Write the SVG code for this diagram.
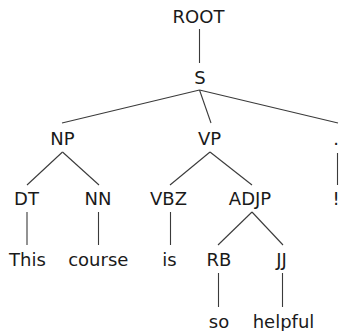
<svg xmlns="http://www.w3.org/2000/svg" width="339" height="331" viewBox="0 0 339 331">
<style>
.n text{font-family:"DejaVu Sans",sans-serif;font-size:18px;fill:#1a1a1a;text-anchor:middle}
#edges line{stroke:#3a3a3a;stroke-width:1.1}
</style>
<rect width="339" height="331" fill="#fff"/>
<g id="edges">
<line x1="199.5" y1="29" x2="199.5" y2="63"/>
<line x1="199.5" y1="90" x2="62" y2="123"/>
<line x1="199.5" y1="90" x2="211" y2="123"/>
<line x1="199.5" y1="90" x2="338" y2="123"/>
<line x1="62.5" y1="152" x2="27" y2="185"/>
<line x1="62.5" y1="152" x2="99" y2="185"/>
<line x1="210" y1="152" x2="170" y2="185"/>
<line x1="210" y1="152" x2="252" y2="185"/>
<line x1="337.5" y1="153" x2="337.5" y2="185"/>
<line x1="27" y1="212" x2="27" y2="245"/>
<line x1="98.5" y1="212" x2="98.5" y2="245"/>
<line x1="170.5" y1="212" x2="170.5" y2="245"/>
<line x1="252" y1="212" x2="218" y2="245"/>
<line x1="252" y1="212" x2="283" y2="245"/>
<line x1="218.5" y1="273" x2="218.5" y2="307"/>
<line x1="282.5" y1="273" x2="282.5" y2="307"/>
</g>
<g id="n-root" class="n"><text x="198.5" y="23">ROOT</text></g>
<g id="n-s" class="n"><text x="200" y="84">S</text></g>
<g id="n-np" class="n"><text x="62.5" y="145">NP</text></g>
<g id="n-vp" class="n"><text x="209.5" y="145">VP</text></g>
<g id="n-dot" class="n"><text x="336" y="145">.</text></g>
<g id="n-dt" class="n"><text x="26.5" y="205">DT</text></g>
<g id="n-nn" class="n"><text x="98" y="205">NN</text></g>
<g id="n-vbz" class="n"><text x="168.5" y="205">VBZ</text></g>
<g id="n-adjp" class="n"><text x="250" y="205">ADJP</text></g>
<g id="n-excl" class="n"><text x="336" y="205">!</text></g>
<g id="n-this" class="n"><text x="27.5" y="266">This</text></g>
<g id="n-course" class="n"><text x="98.3" y="266">course</text></g>
<g id="n-is" class="n"><text x="169.5" y="266">is</text></g>
<g id="n-rb" class="n"><text x="219" y="266">RB</text></g>
<g id="n-jj" class="n"><text x="281.5" y="266">JJ</text></g>
<g id="n-so" class="n"><text x="219" y="328">so</text></g>
<g id="n-helpful" class="n"><text x="283.5" y="328">helpful</text></g>
</svg>
